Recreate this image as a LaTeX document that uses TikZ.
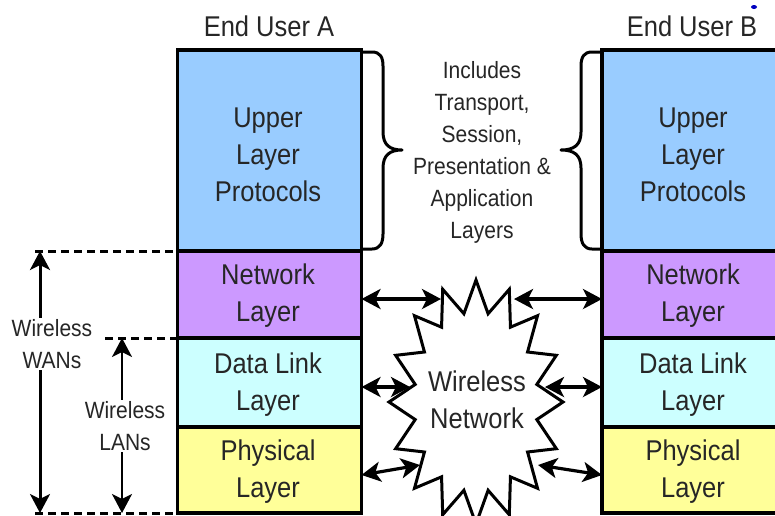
\documentclass[tikz,border=0pt]{standalone}
\usepackage{fontspec}
\setmainfont{Liberation Sans}
\usetikzlibrary{arrows.meta}

% slightly tall lettering
\newcommand{\tl}[1]{\scalebox{1}[1.12]{#1}}

\definecolor{upperblue}{HTML}{99CCFF}
\definecolor{netpurple}{HTML}{CC99FF}
\definecolor{linkcyan}{HTML}{CCFFFF}
\definecolor{physyellow}{HTML}{FFFF99}
\definecolor{inkgrey}{HTML}{262626}

\tikzset{
  layerbox/.style={draw=black, line width=3.4pt, rectangle, inner sep=0pt,
    outer sep=0pt, minimum width=184pt},
  lbl/.style={align=center, text=inkgrey, inner sep=0pt,
    font=\fontsize{25.5}{37}\selectfont},
  sidelbl/.style={align=center, text=inkgrey, inner sep=1pt, fill=white,
    font=\fontsize{21}{32}\selectfont},
  twoway/.style={line width=3.2pt,
    {Stealth[length=19pt,width=20pt,inset=5pt]}-{Stealth[length=19pt,width=20pt,inset=5pt]}},
  span/.style={line width=3pt,
    {Stealth[length=19pt,width=20pt,inset=5pt]}-{Stealth[length=19pt,width=20pt,inset=5pt]}},
  guide/.style={line width=3pt, dash pattern=on 8pt off 5pt},
  bracestroke/.style={line width=3pt, line join=round},
}

\begin{document}
\begin{tikzpicture}[x=1pt, y=-1pt]
\useasboundingbox (0,0) rectangle (775,515);
\clip (0,0) rectangle (775,515);
\fill[white] (0,0) rectangle (775,515);

% ---- protocol stack of user A ----
\node[layerbox, fill=upperblue, minimum height=201pt] (upA) at (269.5,150.5) {};
\node[layerbox, fill=netpurple, minimum height=87pt] (netA) at (269.5,294.5) {};
\node[layerbox, fill=linkcyan, minimum height=89pt] (dlA) at (269.5,382.5) {};
\node[layerbox, fill=physyellow, minimum height=86pt] (phA) at (269.5,470) {};

% ---- protocol stack of user B ----
\node[layerbox, fill=upperblue, minimum height=201pt] (upB) at (694,150.5) {};
\node[layerbox, fill=netpurple, minimum height=87pt] (netB) at (694,294.5) {};
\node[layerbox, fill=linkcyan, minimum height=89pt] (dlB) at (694,382.5) {};
\node[layerbox, fill=physyellow, minimum height=86pt] (phB) at (694,470) {};

% layer names
\node[lbl] (tUpA) at (268,155) {\tl{Upper}\\\tl{Layer}\\\tl{Protocols}};
\node[lbl] (tNetA) at (268,296) {\tl{Network}\\\tl{Layer}};
\node[lbl] (tDlA) at (268,385) {\tl{Data Link}\\\tl{Layer}};
\node[lbl] (tPhA) at (268,472) {\tl{Physical}\\\tl{Layer}};
\node[lbl] (tUpB) at (693,155) {\tl{Upper}\\\tl{Layer}\\\tl{Protocols}};
\node[lbl] (tNetB) at (693,296) {\tl{Network}\\\tl{Layer}};
\node[lbl] (tDlB) at (693,385) {\tl{Data Link}\\\tl{Layer}};
\node[lbl] (tPhB) at (693,472) {\tl{Physical}\\\tl{Layer}};

% titles
\node[lbl] (userA) at (269,26) {\tl{End User A}};
\node[lbl] (userB) at (692,26) {\tl{End User B}};
\fill[blue!75!black] (754,7) ellipse (3pt and 2pt);

% ---- braces around the upper layers ----
\draw[bracestroke] (362,52) -- (372,52) .. controls (380,52) and (383,57) .. (383,66)
  -- (383,132) .. controls (383,145) and (390,150) .. (402,150)
  .. controls (390,150) and (383,155) .. (383,168)
  -- (383,234) .. controls (383,243) and (380,249) .. (372,249) -- (362,249);
\draw[bracestroke] (602,52) -- (592,52) .. controls (584,52) and (581,57) .. (581,66)
  -- (581,132) .. controls (581,145) and (574,150) .. (561,150)
  .. controls (574,150) and (581,155) .. (581,168)
  -- (581,234) .. controls (581,243) and (584,249) .. (592,249) -- (602,249);
\node[lbl, font=\fontsize{21}{32}\selectfont] (incl) at (482,152)
  {\tl{Includes}\\\tl{Transport,}\\\tl{Session,}\\\tl{Presentation \&}\\\tl{Application}\\\tl{Layers}};

% ---- wireless network burst (16 spikes) ----
\draw[line width=3pt, line join=miter, fill=white]
  (476,280) \foreach \i in {1,...,31} {
    -- ({476+ifthenelse(mod(\i,2)==0,87,62)*cos(90+11.25*\i)},
        {402-ifthenelse(mod(\i,2)==0,122,90)*sin(90+11.25*\i)})
  } -- cycle;
\node[lbl] (wn) at (477,400) {\tl{Wireless}\\\tl{Network}};

% where the links meet the burst
\coordinate (wnNetL) at (441,299);
\coordinate (wnNetR) at (514,299);
\coordinate (wnDlL) at (410,387);
\coordinate (wnDlR) at (545,387);
\coordinate (wnPhL) at (420,465);
\coordinate (wnPhR) at (538,465);

% links between the stacks and the network
\draw[twoway] ([yshift=-4.5pt]netA.east) -- (wnNetL);
\draw[twoway] (wnNetR) -- ([yshift=-4.5pt]netB.west);
\draw[twoway] ([yshift=-4.5pt]dlA.east) -- (wnDlL);
\draw[twoway] (wnDlR) -- ([yshift=-4.5pt]dlB.west);
\draw[twoway] ([yshift=-5pt]phA.east) -- (wnPhL);
\draw[twoway] (wnPhR) -- ([yshift=-5pt]phB.west);

% ---- reach of wireless WANs and LANs ----
\coordinate (wanTop) at (40,251);
\coordinate (wanBot) at (40,513);
\coordinate (lanTop) at (122,338);
\coordinate (lanBot) at (122,513);
\draw[guide] (35,251) -- (netA.north west);
\draw[guide] (105,338) -- (dlA.north west);
\draw[guide] (35,513) -- (phA.south west);
\draw[span] (wanTop) -- (wanBot);
\draw[span, line width=2.2pt] (lanTop) -- (lanBot);
\node[sidelbl] (wanlbl) at (52,344) {\tl{Wireless}\\\tl{WANs}};
\node[sidelbl] (lanlbl) at (125,426) {\tl{Wireless}\\\tl{LANs}};
\end{tikzpicture}
\end{document}
